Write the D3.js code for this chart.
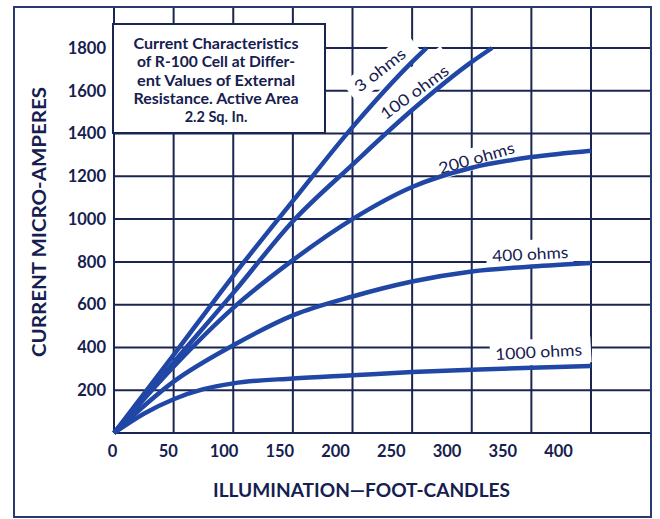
<!DOCTYPE html>
<html>
<head>
<meta charset="utf-8">
<script src="https://cdn.jsdelivr.net/npm/d3@7"></script>
<style>
  html, body { margin: 0; padding: 0; background: #ffffff; }
  svg { display: block; }
  text { font-family: Lato, "Open Sans", sans-serif; }
</style>
</head>
<body>
<svg id="chart" width="660" height="519"></svg>
<script>
// Illumination (foot-candles) and current (micro-amperes) for each load
const seriesNames = ["3 ohms", "100 ohms", "200 ohms", "400 ohms", "1000 ohms"];
const fc3    = [0, 50, 100, 150, 200, 250, 262];
const ua3    = [0, 365, 735, 1085, 1430, 1735, 1800];
const fc100  = [0, 50, 100, 150, 200, 250, 300, 317];
const ua100  = [0, 330, 655, 990, 1255, 1510, 1735, 1800];
const fc200  = [0, 50, 100, 150, 200, 250, 300, 350, 400];
const ua200  = [0, 310, 585, 808, 1000, 1150, 1240, 1290, 1320];
const fc400  = [0, 50, 100, 150, 200, 250, 300, 350, 400];
const ua400  = [0, 240, 410, 550, 638, 708, 755, 778, 795];
const fc1000 = [0, 25, 50, 75, 100, 150, 200, 250, 300, 350, 400];
const ua1000 = [0, 90, 158, 205, 232, 255, 270, 285, 296, 305, 313];

const xTicks = [0, 50, 100, 150, 200, 250, 300, 350, 400];
const yTicks = [200, 400, 600, 800, 1000, 1200, 1400, 1600, 1800];
const boxLines = [
  "Current Characteristics",
  "of R-100 Cell at Differ-",
  "ent Values of External",
  "Resistance. Active Area",
  "2.2 Sq. In."
];

const INK = "#16204f", GRID = "#1b2552", CURVE = "#2046a6";

const svg = d3.select("#chart");
const x = d3.scaleLinear().domain([0, 400]).range([114, 591]);
const y = d3.scaleLinear().domain([0, 1800]).range([433, 48]);
// tick numerals were set on their own slightly tighter spacing
const xLab = d3.scaleLinear().domain([0, 400]).range([112, 558]);

const frame = { left: 14, top: 7, right: 651, bottom: 517 };

// grid
const g = svg.append("g").attr("stroke", GRID).attr("stroke-width", 2);
g.selectAll("line.v").data(xTicks).join("line").attr("class", "v")
  .attr("x1", d => x(d)).attr("x2", d => x(d))
  .attr("y1", frame.top).attr("y2", y(0));
g.selectAll("line.h").data([0].concat(yTicks)).join("line").attr("class", "h")
  .attr("x1", x(0)).attr("x2", frame.right)
  .attr("y1", d => y(d)).attr("y2", d => y(d));

// outer frame
svg.append("rect")
  .attr("x", frame.left).attr("y", frame.top)
  .attr("width", frame.right - frame.left).attr("height", frame.bottom - frame.top)
  .attr("fill", "none").attr("stroke", "#2a3a6e").attr("stroke-width", 2);

// curve labels with white backing that interrupts the grid
const labelSpec = [
  { i: 0, fc: 223, ua: 1697, angle: -38, len: 60, pad: [6, 14, 5, 8] },
  { i: 1, fc: 252, ua: 1594, angle: -36, len: 80, pad: [15, 8, 5, 5] },
  { i: 2, fc: 304, ua: 1286, angle: -16, len: 78, pad: [4, 4, 4, 4] },
  { i: 3, fc: 349, ua: 837,  angle: -3,  len: 76, pad: [7, 5, 5, 6] },
  { i: 4, fc: 356, ua: 379,  angle: -3,  len: 87, pad: [6, 9, 6, 5] }
];
const lab = svg.append("g").selectAll("g").data(labelSpec).join("g")
  .attr("transform", d => `translate(${x(d.fc)},${y(d.ua)}) rotate(${d.angle})`);
lab.append("rect")
  .attr("x", d => -d.len / 2 - d.pad[3]).attr("y", d => -7 - d.pad[0])
  .attr("width", d => d.len + d.pad[1] + d.pad[3])
  .attr("height", d => 14 + d.pad[0] + d.pad[2])
  .attr("fill", "#ffffff");

// title box
svg.append("rect").attr("x", 113).attr("y", 24).attr("width", 212).attr("height", 109)
  .attr("fill", "#ffffff").attr("stroke", GRID).attr("stroke-width", 2);
const boxLen = [165, 158, 158, 165, null];
svg.append("g").selectAll("text").data(boxLines).join("text")
  .attr("x", 216).attr("y", (d, i) => 49 + i * 18.3)
  .attr("text-anchor", "middle")
  .attr("font-size", 14.5).attr("font-weight", 700).attr("fill", INK)
  .each(function (d, i) {
    if (boxLen[i]) d3.select(this).attr("textLength", boxLen[i]).attr("lengthAdjust", "spacingAndGlyphs");
  })
  .text(d => d);

// curves
const series = [
  [fc3, ua3], [fc100, ua100], [fc200, ua200], [fc400, ua400], [fc1000, ua1000]
];
const line = d3.line().x(d => x(d[0])).y(d => y(d[1])).curve(d3.curveMonotoneX);
svg.append("g").selectAll("path").data(series).join("path")
  .attr("d", s => line(s[0].map((v, k) => [v, s[1][k]])))
  .attr("fill", "none").attr("stroke", CURVE).attr("stroke-width", 4.5)
  .attr("stroke-linecap", "butt").attr("stroke-linejoin", "round");

lab.append("text")
  .attr("text-anchor", "middle").attr("dy", "0.36em")
  .attr("font-size", 16).attr("font-weight", 400).attr("fill", INK)
  .attr("textLength", d => d.len).attr("lengthAdjust", "spacingAndGlyphs")
  .text(d => seriesNames[d.i]);

// axes
const xAxis = svg.append("g").attr("transform", `translate(0,${y(0)})`)
  .call(d3.axisBottom(xLab).tickValues(xTicks).tickSize(0).tickPadding(12).tickFormat(d3.format("d")));
const yAxis = svg.append("g").attr("transform", `translate(${x(0)},0)`)
  .call(d3.axisLeft(y).tickValues(yTicks).tickSize(0).tickPadding(8).tickFormat(d3.format("d")));
[xAxis, yAxis].forEach(a => {
  a.select(".domain").remove();
  a.selectAll("text").attr("font-family", "Lato, sans-serif")
    .attr("font-size", 16.5).attr("font-weight", 700).attr("fill", INK);
});

// axis titles
svg.append("text")
  .attr("x", 361.5).attr("y", 497).attr("text-anchor", "middle")
  .attr("font-size", 18).attr("font-weight", 700).attr("fill", INK)
  .attr("textLength", 297).attr("lengthAdjust", "spacingAndGlyphs")
  .text("ILLUMINATION\u2014FOOT-CANDLES");
svg.append("text")
  .attr("transform", "translate(40,222) rotate(-90)")
  .attr("text-anchor", "middle").attr("dy", "0.36em")
  .attr("font-size", 18).attr("font-weight", 700).attr("fill", INK)
  .attr("textLength", 270).attr("lengthAdjust", "spacingAndGlyphs")
  .text("CURRENT MICRO-AMPERES");
</script>
</body>
</html>
